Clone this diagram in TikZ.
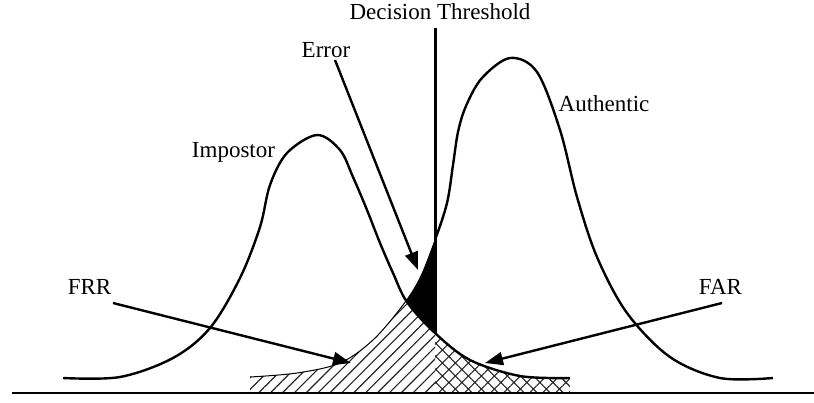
\documentclass[tikz,border=0pt]{standalone}
\usepackage{fontspec}
\setmainfont{Liberation Serif}
\usetikzlibrary{arrows.meta,patterns.meta}

\tikzset{
  lbl/.style={inner sep=0pt, anchor=base, font=\fontsize{11.5}{13}\selectfont},
  curve/.style={line width=1.2pt, line join=round},
  thin curve/.style={line width=0.5pt},
  pointer/.style={line width=1.2pt, -{Triangle[length=9pt,width=6.5pt]}},
  impostor/.style={insert path={plot[smooth,tension=0.55] coordinates {
    (63,378) (120,377) (173,358) (210,328) (240,278) (260,227) (270,185)
    (287,153) (317,135) (340,150) (353,177) (367,210) (380,243) (393,273)
    (407,302) (435,333) (470,360) (520,376) (570,378)}}},
  authentic/.style={insert path={plot[smooth,tension=0.55] coordinates {
    (250,377) (297,373) (340,363) (373,340) (403,305) (420,278) (435,240)
    (447,203) (453,165) (458,132) (466,106) (482,78) (510,58) (537,72)
    (560,130) (577,197) (597,257) (627,313) (670,357) (720,378) (773,378)}}},
  frr fill/.style={pattern={Lines[angle=45,distance=4.2pt,line width=0.6pt]}, pattern color=black!85},
  far fill/.style={pattern={Hatch[angle=45,distance=4.6pt,line width=0.55pt]}, pattern color=black!85},
}

\begin{document}
\begin{tikzpicture}[x=0.5pt,y=-0.5pt]
\useasboundingbox (0,0) rectangle (814,402);

% error region: under the authentic curve, left of the threshold
\begin{scope}
  \clip (380,0) rectangle (435,402);
  \clip[authentic] -- (773,393) -- (250,393) -- cycle;
  \fill[black] (380,0) rectangle (435,402);
\end{scope}

% false rejections: under both curves, left of the threshold
\begin{scope}
  \clip (240,0) rectangle (435,402);
  \clip[authentic] -- (773,393) -- (250,393) -- cycle;
  \clip[impostor] -- (570,393) -- (63,393) -- cycle;
  \fill[white] (240,0) rectangle (435,402);
  \fill[frr fill] (240,0) rectangle (435,402);
\end{scope}

% false acceptances: under the impostor curve, right of the threshold
\begin{scope}
  \clip (435,0) rectangle (570,402);
  \clip[impostor] -- (570,393) -- (63,393) -- cycle;
  \fill[far fill] (435,0) rectangle (570,402);
\end{scope}

% the two score distributions
\draw[curve, impostor];
\begin{scope}
  \clip (0,0) rectangle (435,402);
  \draw[thin curve, authentic];
\end{scope}
\begin{scope}
  \clip (435,0) rectangle (814,402);
  \draw[curve, authentic];
\end{scope}

% axis and threshold
\coordinate (axisL) at (12,393);
\coordinate (axisR) at (814,393);
\draw[line width=1.2pt] (axisL) -- (axisR);

\node[lbl] (thr) at (440,19) {Decision Threshold};
\coordinate (thrtop) at (435,28);
\coordinate (thrbot) at (435,334);
\draw[line width=1.5pt] (thrtop) -- (thrbot);

% labels
\node[lbl] (imp) at (233.5,157) {Impostor};
\node[lbl] (auth) at (604,111) {Authentic};
\node[lbl] (err) at (326,57) {Error};
\node[lbl] (frr) at (89.5,294) {FRR};
\node[lbl] (far) at (720.5,294) {FAR};

% pointers
\coordinate (errfrom) at (335,60);
\coordinate (errto) at (418,270);
\coordinate (frrfrom) at (113,303);
\coordinate (frrto) at (351,363);
\coordinate (farfrom) at (722,303);
\coordinate (farto) at (485,363);
\draw[pointer] (errfrom) -- (errto);
\draw[pointer] (frrfrom) -- (frrto);
\draw[pointer] (farfrom) -- (farto);
\end{tikzpicture}
\end{document}
